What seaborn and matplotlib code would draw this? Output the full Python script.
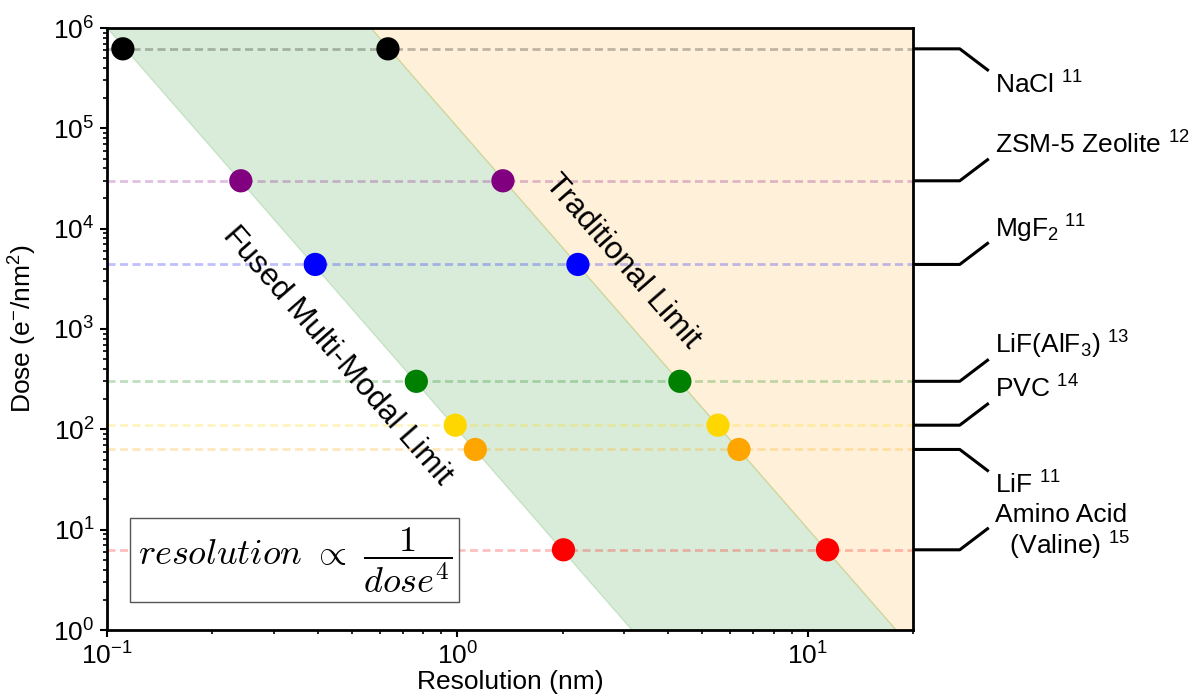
import numpy as np
import pandas as pd
import matplotlib
matplotlib.use("Agg")
import matplotlib.pyplot as plt
import seaborn as sns
from matplotlib.transforms import blended_transform_factory
from matplotlib.ticker import LogLocator, NullFormatter

# ---------------- data ----------------
materials = ["NaCl", "ZSM-5 Zeolite", "MgF2", "LiF(AlF3)", "PVC", "LiF", "Amino Acid (Valine)"]
material_labels = [
    "NaCl $^{11}$",
    "ZSM-5 Zeolite $^{12}$",
    "MgF$_2$$^{\\ 11}$",
    "LiF(AlF$_3$) $^{13}$",
    "PVC $^{14}$",
    "LiF $^{11}$",
    "Amino Acid\n  (Valine) $^{15}$",
]
dose = [6.2e5, 3.0e4, 4.4e3, 301, 110, 63, 6.3]
res_fused = [0.111, 0.241, 0.393, 0.764, 0.987, 1.126, 2.01]
res_traditional = [0.634, 1.35, 2.21, 4.32, 5.55, 6.37, 11.4]
colors = ["black", "purple", "blue", "green", "gold", "orange", "red"]

limit_dose = [1e6, 1.0]
fused_limit_res = [0.1, 3.15]
trad_limit_res = [0.567, 17.9]

x_limits = (0.1, 20)
y_limits = (1, 1e6)

# label connector direction (+1 up, -1 down)
label_dir = [-1, 1, 1, 1, 1, -1, 1]

# ---------------- style ----------------
sns.set_theme(style="white")
plt.rcParams["font.family"] = ["Liberation Sans", "DejaVu Sans"]
plt.rcParams["mathtext.fontset"] = "custom"
plt.rcParams["mathtext.rm"] = "Liberation Sans"
plt.rcParams["mathtext.it"] = "Liberation Sans:italic"
plt.rcParams["mathtext.bf"] = "Liberation Sans:bold"
plt.rcParams["axes.unicode_minus"] = False
plt.rcParams["text.color"] = "black"
plt.rcParams["axes.labelcolor"] = "black"
plt.rcParams["xtick.color"] = "black"
plt.rcParams["ytick.color"] = "black"

fig = plt.figure(figsize=(11.92, 7.0), dpi=100)
ax = fig.add_axes([107 / 1192, 70 / 700, 806 / 1192, 602 / 700])
ax.set_xscale("log")
ax.set_yscale("log")
ax.set_xlim(*x_limits)
ax.set_ylim(*y_limits)

# regions
ax.fill_betweenx(limit_dose, fused_limit_res, trad_limit_res, color="green", alpha=0.15, zorder=1)
ax.fill_betweenx(limit_dose, trad_limit_res, [x_limits[1]] * 2, color="orange", alpha=0.15, zorder=1)

# dashed guide lines
for d, c in zip(dose, colors):
    ax.axhline(d, color=c, alpha=0.25, lw=2, ls=(0, (2.9, 1.6)), zorder=2)

# points
df = pd.DataFrame({
    "material": materials * 2,
    "dose": dose * 2,
    "resolution": res_fused + res_traditional,
})
sns.scatterplot(data=df, x="resolution", y="dose", hue="material",
                palette=dict(zip(materials, colors)), s=280, linewidth=0,
                legend=False, ax=ax, zorder=5)

# axes styling
for sp in ax.spines.values():
    sp.set_linewidth(2)
    sp.set_color("black")
ax.tick_params(which="both", direction="out", top=False, right=False, bottom=True, left=True,
               colors="black")
ax.tick_params(which="major", length=5, width=1.5, labelsize=19, pad=4)
ax.tick_params(which="minor", length=2.8, width=1.2)
ax.tick_params(axis="x", which="major", pad=4)
ax.yaxis.set_major_locator(LogLocator(base=10, numticks=20))
ax.yaxis.set_minor_locator(LogLocator(base=10, subs=np.arange(2, 10), numticks=100))
ax.xaxis.set_minor_locator(LogLocator(base=10, subs=np.arange(2, 10), numticks=100))
ax.xaxis.set_minor_formatter(NullFormatter())
ax.yaxis.set_minor_formatter(NullFormatter())
ax.grid(False)

ax.set_xlabel("Resolution (nm)", fontsize=19, labelpad=0)
ax.set_ylabel("Dose (e$^{-}$/nm$^{2}$)", fontsize=19, labelpad=10)

# rotated limit labels
p0 = ax.transData.transform((trad_limit_res[0], limit_dose[0]))
p1 = ax.transData.transform((trad_limit_res[1], limit_dose[1]))
angle = np.degrees(np.arctan2(p1[1] - p0[1], p1[0] - p0[0]))
ax.text(2.96, 4650, "Traditional Limit", rotation=angle, rotation_mode="anchor",
        ha="center", va="center", fontsize=22.5, zorder=6)
ax.text(0.455, 540, "Fused Multi-Modal Limit", rotation=angle, rotation_mode="anchor",
        ha="center", va="center", fontsize=22.5, zorder=6)

# formula box
ax.text(0.233, 0.116, r"$resolution\ \propto\ \dfrac{1}{dose^4}$", transform=ax.transAxes,
        ha="center", va="center", fontsize=26, math_fontfamily="cm", zorder=7,
        bbox=dict(boxstyle="square,pad=0.2", fc="white", ec="#555555", lw=1))

# right-side labels with connectors
blend = blended_transform_factory(ax.transAxes, ax.transData)
step = 10 ** (22 / 100.33)
for d, lab, dr in zip(dose, material_labels, label_dir):
    d_end = d * step ** dr
    ax.plot([1.0, 1.058, 1.094], [d, d, d_end], color="black", lw=2.2,
            transform=blend, clip_on=False, solid_capstyle="butt", zorder=8)
    if lab.startswith("Amino"):
        ty = d_end * 10 ** (-5 / 100.33)
        ax.text(1.102, ty, lab, transform=blend, ha="left", va="center", fontsize=19,
                multialignment="left", linespacing=1.1)
    else:
        ty = d_end * 10 ** (dr * 14 / 100.33)
        ax.text(1.102, ty, lab, transform=blend, ha="left", va="center", fontsize=19)

fig.savefig("out.png", dpi=100)
